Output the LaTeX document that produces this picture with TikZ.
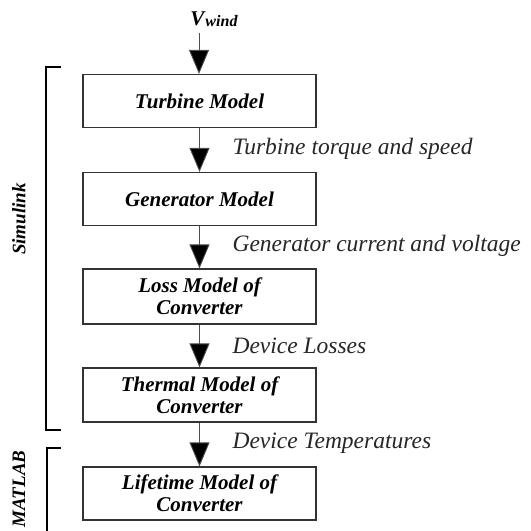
\documentclass[tikz,border=0pt]{standalone}
\usepackage{fontspec}
\setmainfont{Liberation Serif}
\usetikzlibrary{arrows.meta}
\begin{document}
\begin{tikzpicture}[x=1pt,y=-1pt,
  modelbox/.style={draw=black!80,line width=1.2pt,minimum width=233pt,minimum height=53pt,inner sep=1pt,align=center,font=\fontsize{21}{22}\selectfont\bfseries\itshape},
  flow/.style={draw=black!70,line width=0.9pt,-{Triangle[length=24pt,width=20pt,fill=black]}},
  lbl/.style={anchor=west,font=\fontsize{23.5}{26}\selectfont\itshape,text=black!85},
  brk/.style={line width=2.4pt},
  side/.style={rotate=90,font=\bfseries\itshape}]
\useasboundingbox (0,0) rectangle (531,531);
\node (v) at (214,19) {\fontsize{21}{22}\selectfont\bfseries\itshape V\kern1pt\raisebox{-1.5pt}{\fontsize{16}{17}\selectfont wind}};
\node[modelbox] (t) at (199.5,101) {Turbine Model};
\node[modelbox] (g) at (199.5,199) {Generator Model};
\node[modelbox,minimum height=55pt] (l) at (199.5,296.5) {Loss Model of\\Converter};
\node[modelbox,minimum height=54pt] (h) at (199.5,395) {Thermal Model of\\Converter};
\node[modelbox] (m) at (199.5,493.5) {Lifetime Model of\\Converter};
\coordinate (vb) at (199,33);
\draw[flow] (vb) -- (vb |- t.north);
\draw[flow] (t) -- (g);
\draw[flow] (g) -- (l);
\draw[flow] (l) -- (h);
\draw[flow] (h) -- (m);
\node[lbl] (lt) at (229,149) {Turbine torque and speed};
\node[lbl] (lg) at (229,246) {Generator current and voltage};
\node[lbl] (ll) at (229,346) {Device Losses};
\node[lbl] (lh) at (229,443) {Device Temperatures};
\coordinate (s1) at (61,67);
\coordinate (s2) at (46,67);
\coordinate (s3) at (46,430);
\coordinate (s4) at (61,430);
\draw[brk] (s1) -- (s2) -- (s3) -- (s4);
\coordinate (m1) at (61,448);
\coordinate (m2) at (47,448);
\coordinate (m3) at (47,540);
\draw[brk] (m1) -- (m2) -- (m3);
\node[side] (sl) at (19,219) {\fontsize{19}{21}\selectfont Simulink};
\node[side] (ml) at (19,489) {\fontsize{19}{21}\selectfont MATLAB};
\end{tikzpicture}
\end{document}
